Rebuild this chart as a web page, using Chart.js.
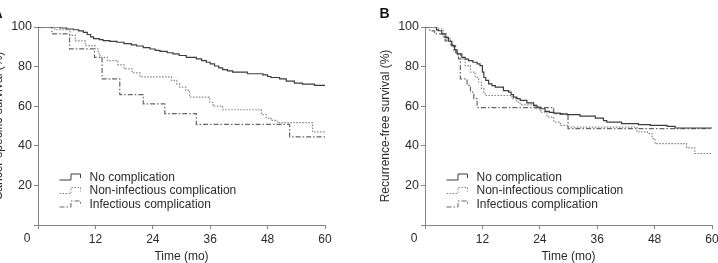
<!DOCTYPE html>
<html>
<head>
<meta charset="utf-8">
<script src="https://cdn.jsdelivr.net/npm/chart.js@4.4.1/dist/chart.umd.min.js"></script>
<style>
  html, body { margin: 0; padding: 0; background: #fff; overflow: hidden; }
  #wrap { position: relative; width: 718px; height: 263px; overflow: hidden; }
  canvas { position: absolute; top: 0; }
  #chartA { left: -29px; }
  #chartB { left: 358px; }
</style>
</head>
<body>
<div id="wrap">
  <canvas id="chartA" width="400" height="263"></canvas>
  <canvas id="chartB" width="400" height="263"></canvas>
</div>
<script>
// -------------------------------------------------------------
// DATA (Kaplan-Meier steps: time in months, survival in %)
// -------------------------------------------------------------
const seriesLabels = ["No complication", "Non-infectious complication", "Infectious complication"];
const xTickValues = [0, 12, 24, 36, 48, 60];
const yTickValues = [0, 20, 40, 60, 80, 100];

// panel A: cancer-specific survival
const aNoneTime = [0, 4.6, 6.0, 7.4, 8.5, 9.5, 10.3, 11.0, 11.6, 12.8, 13.6, 15.0, 16.5, 18.0, 19.5, 20.6, 22.0, 23.4, 24.5, 25.5, 27.0, 28.2, 29.5, 31.0, 33.1, 34.2, 35.2, 36.0, 36.9, 37.8, 38.6, 39.6, 40.7, 43.8, 47.0, 48.0, 48.7, 50.5, 51.9, 53.6, 55.3, 57.8, 60];
const aNoneSurv = [100, 99.5, 99.0, 98.6, 98.0, 97.3, 96.2, 95.0, 94.1, 93.6, 93.1, 92.7, 92.3, 91.6, 91.0, 90.4, 89.6, 88.9, 88.2, 87.7, 87.0, 86.4, 85.6, 84.7, 83.9, 83.0, 82.2, 81.4, 80.3, 79.4, 78.5, 77.8, 77.2, 76.4, 75.8, 75.0, 74.5, 73.8, 72.7, 71.7, 71.1, 70.5, 70.5];
const aNonInfTime = [0, 3.5, 6.7, 7.8, 9.9, 11.9, 12.6, 13.0, 14.5, 16.7, 18.0, 19.7, 21.3, 27.9, 29.0, 29.6, 30.9, 31.7, 35.9, 36.6, 38.6, 46.7, 47.7, 48.7, 50.0, 57.4, 60];
const aNonInfSurv = [100, 98.6, 95.8, 93.0, 90.6, 88.9, 86.5, 84.7, 83.0, 80.9, 78.9, 76.8, 74.8, 73.0, 71.3, 69.6, 68.0, 64.6, 62.0, 60.0, 58.2, 55.7, 54.0, 52.8, 51.7, 47.0, 47.0];
const aInfTime = [0, 2.9, 6.6, 11.8, 13.4, 17.1, 22.0, 26.5, 33.1, 52.6, 60];
const aInfSurv = [100, 96.5, 89.0, 84.7, 73.8, 65.8, 61.2, 56.2, 50.8, 44.5, 44.5];

// panel B: recurrence-free survival
const bNoneTime = [0, 2.4, 2.8, 3.5, 4.2, 4.9, 5.6, 6.2, 6.7, 7.7, 8.4, 9.1, 10.0, 10.9, 11.5, 12.0, 12.3, 12.7, 13.3, 14.0, 14.7, 16.4, 17.5, 18.0, 18.5, 19.2, 19.9, 21.3, 22.7, 23.4, 24.1, 25.1, 26.0, 26.9, 28.3, 29.7, 32.4, 35.6, 37.3, 38.0, 41.1, 44.6, 47.1, 50.6, 52.3, 60];
const bNoneSurv = [100, 98.5, 98.1, 96.5, 94.8, 92.8, 90.6, 88.5, 86.4, 84.7, 83.8, 83.0, 82.2, 81.4, 80.5, 77.2, 74.5, 73.0, 71.3, 70.4, 69.6, 67.9, 67.1, 65.8, 64.6, 63.8, 62.9, 61.7, 60.4, 59.5, 58.7, 57.4, 56.9, 56.5, 56.0, 55.7, 55.0, 54.0, 52.7, 52.0, 51.2, 50.7, 50.3, 49.8, 49.0, 49.0];
const bNonInfTime = [0, 2.8, 3.8, 4.5, 5.3, 6.0, 6.8, 7.4, 8.4, 9.5, 10.5, 11.2, 11.8, 12.3, 12.6, 18.2, 19.2, 19.9, 23.0, 24.1, 25.5, 26.9, 28.3, 29.7, 44.3, 46.5, 47.5, 48.1, 54.7, 56.4, 60];
const bNonInfSurv = [100, 99.0, 96.5, 94.0, 91.0, 88.0, 86.0, 83.9, 80.5, 77.2, 74.6, 72.1, 69.0, 66.3, 65.4, 63.8, 62.0, 60.7, 58.7, 57.0, 54.5, 52.0, 50.3, 49.4, 47.0, 46.2, 43.6, 41.1, 39.0, 36.1, 36.1];
const bInfTime = [0, 1.0, 2.0, 3.8, 4.2, 5.6, 6.4, 7.0, 7.4, 8.8, 9.5, 10.2, 10.9, 26.9, 29.9, 60];
const bInfSurv = [100, 98.0, 96.5, 95.0, 93.0, 90.6, 87.0, 83.9, 73.8, 70.5, 67.1, 63.8, 59.3, 56.2, 48.7, 48.7];

// -------------------------------------------------------------
// STYLE
// -------------------------------------------------------------
const FONT = "'Liberation Sans', Arial, Helvetica, sans-serif";
const TEXT = "#2b2b2b";
const AXIS = "#858585";
const lineStyles = [
  { color: "#3c3c3c", dash: [], width: 1.2 },
  { color: "#858585", dash: [1.5, 1.5], width: 1.2 },
  { color: "#666666", dash: [5, 2, 1.5, 2], width: 1.2 }
];

const toPoints = (t, s) => t.map((x, i) => ({ x, y: s[i] }));

// -------------------------------------------------------------
// PLUGIN: step legend, corner "0", panel letter
// -------------------------------------------------------------
const decor = {
  id: "decor",
  afterDraw(chart) {
    const { ctx, chartArea } = chart;
    const opts = chart.options.plugins.decor;
    ctx.save();

    // legend
    ctx.font = "12px " + FONT;
    ctx.textBaseline = "middle";
    ctx.textAlign = "left";
    seriesLabels.forEach((label, i) => {
      const st = lineStyles[i];
      const y = chartArea.bottom - 47.5 + i * 13.5;
      const x0 = chartArea.left + 21.5;
      ctx.strokeStyle = st.color;
      ctx.lineWidth = 1;
      ctx.setLineDash(st.dash);
      ctx.beginPath();
      ctx.moveTo(x0, y + 2.5);
      ctx.lineTo(x0 + 11.5, y + 2.5);
      ctx.lineTo(x0 + 11.5, y - 3.5);
      ctx.lineTo(x0 + 21, y - 3.5);
      ctx.lineTo(x0 + 21, y + 0.5);
      ctx.stroke();
      ctx.setLineDash([]);
      ctx.fillStyle = TEXT;
      ctx.fillText(label, chartArea.left + 51.5, y);
    });

    // shared origin label
    ctx.font = "12px " + FONT;
    ctx.textAlign = "center";
    ctx.fillText("0", chartArea.left - 11, chartArea.bottom + 14);

    // panel letter
    ctx.font = "bold 14px " + FONT;
    ctx.fillStyle = "#111";
    ctx.fillText(opts.letter, 26.5, 14);
    ctx.restore();
  }
};

// -------------------------------------------------------------
// CHART BUILDER
// -------------------------------------------------------------
function makeChart(id, letter, yTitle, series) {
  return new Chart(document.getElementById(id), {
    type: "line",
    data: {
      datasets: series.map((pts, i) => ({
        label: seriesLabels[i],
        data: pts,
        stepped: "before",
        borderColor: lineStyles[i].color,
        borderDash: lineStyles[i].dash,
        borderWidth: lineStyles[i].width,
        pointRadius: 0,
        fill: false
      }))
    },
    options: {
      responsive: false,
      animation: false,
      layout: { padding: { left: 0, top: 27, right: 46, bottom: 0 } },
      plugins: {
        legend: { display: false },
        tooltip: { enabled: false },
        decor: { letter }
      },
      scales: {
        x: {
          type: "linear",
          min: 0,
          max: 60,
          afterBuildTicks: s => { s.ticks = xTickValues.map(v => ({ value: v })); },
          afterFit: s => { s.height = 38; },
          grid: { drawOnChartArea: false, color: AXIS, tickLength: 4 },
          border: { color: AXIS, width: 1 },
          ticks: {
            color: TEXT,
            padding: 3,
            maxRotation: 0,
            font: { family: FONT, size: 12 },
            callback: v => (v === 0 ? "" : v)
          },
          title: {
            display: true,
            text: "Time (mo)",
            color: TEXT,
            font: { family: FONT, size: 12, lineHeight: 1 },
            padding: { top: 0, bottom: 0 }
          }
        },
        y: {
          min: 0,
          max: 100,
          afterBuildTicks: s => { s.ticks = yTickValues.map(v => ({ value: v })); },
          afterFit: s => { s.width = 67; },
          grid: { drawOnChartArea: false, color: AXIS, tickLength: 4 },
          border: { color: AXIS, width: 1 },
          ticks: {
            color: TEXT,
            padding: 2,
            font: { family: FONT, size: 12.5 },
            callback: v => (v === 0 ? "" : v)
          },
          title: {
            display: true,
            text: yTitle,
            color: TEXT,
            font: { family: FONT, size: 12, lineHeight: 1 },
            padding: { top: 21.5, bottom: 0 }
          }
        }
      }
    },
    plugins: [decor]
  });
}

makeChart("chartA", "A", "Cancer-specific survival (%)", [
  toPoints(aNoneTime, aNoneSurv),
  toPoints(aNonInfTime, aNonInfSurv),
  toPoints(aInfTime, aInfSurv)
]);

makeChart("chartB", "B", "Recurrence-free survival (%)", [
  toPoints(bNoneTime, bNoneSurv),
  toPoints(bNonInfTime, bNonInfSurv),
  toPoints(bInfTime, bInfSurv)
]);
</script>
</body>
</html>
